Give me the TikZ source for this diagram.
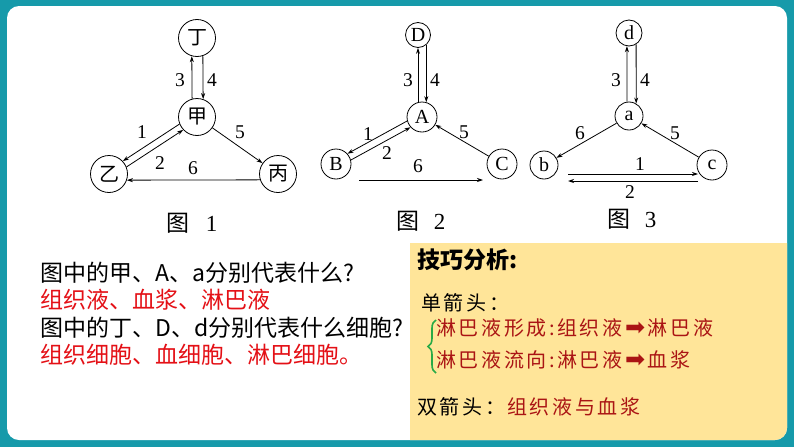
\documentclass[tikz,border=0pt]{standalone}
\usepackage{fontspec}
\setmainfont{Liberation Serif}
\newfontfamily\cjk{Noto Sans CJK SC}
\newfontfamily\sym{DejaVu Sans}
\usetikzlibrary{arrows.meta,calc,decorations.pathreplacing}
\definecolor{frameteal}{RGB}{22,154,170}
\definecolor{boxyellow}{RGB}{255,229,153}
\definecolor{ansred}{RGB}{228,16,22}
\definecolor{darkred}{RGB}{170,20,20}
\definecolor{bracegreen}{RGB}{40,170,70}
\def\trkloop#1{\ifx\relax#1\else#1\kern2.6pt\expandafter\trkloop\fi}
\newcommand\trk[1]{\trkloop#1\relax}
\newcommand\harrow{{\sym\fontsize{24}{24}\selectfont ➡}\kern2.6pt}
\begin{document}
\begin{tikzpicture}[x=1pt,y=-1pt,
  circ/.style={circle,draw,line width=0.8pt,inner sep=0pt,minimum size=#1},
  circ/.default=30pt,
  latin/.style={font=\fontsize{20}{20}\selectfont},
  han/.style={font=\cjk\fontsize{20}{20}\selectfont},
  lab/.style={inner sep=0pt,font=\fontsize{19.5}{19.5}\selectfont},
  capt/.style={inner sep=0pt,font=\fontsize{23}{23}\selectfont},
  arr/.style={line width=0.8pt,-{Stealth[length=6pt,width=4pt]}},
  qtext/.style={anchor=west,inner sep=0pt,font=\cjk\fontsize{23}{27}\selectfont},
  btext/.style={anchor=west,inner sep=0pt,font=\cjk\fontsize{20}{24}\selectfont}]
\useasboundingbox (0,0) rectangle (794,447);
% frame
\fill[frameteal] (0,0) rectangle (794,447);
\fill[white,rounded corners=12pt] (7,6) rectangle (787,440);
\begin{scope}
  \clip[rounded corners=12pt] (7,6) rectangle (787,440);
  \fill[boxyellow] (410,243) rectangle (792,445);
\end{scope}

% ---------- Figure 1 ----------
\node[circ=37pt,han] (T1) at (197,38) {丁};
\node[circ=37pt,han] (J1) at (197,117) {甲};
\node[circ=37pt,han] (Y1) at (109,174) {乙};
\node[circ=37pt,han] (P1) at (278,174) {丙};
\draw[arr] (J1.105.7) -- (T1.254.3);
\draw[arr] (T1.288.9) -- (J1.71.1);
\draw[arr] (J1.202) -- (Y1.43.8);
\draw[arr] (Y1.22) -- (J1.223.8);
\draw[arr] (J1) -- (P1);
\draw[arr] (P1.198.9) -- (Y1.341.1);
\node[lab] (l13) at (180,80) {3};
\node[lab] (l14) at (212,80) {4};
\node[lab] (l11) at (142,132) {1};
\node[lab] (l12) at (160,163) {2};
\node[lab] (l15) at (240,132) {5};
\node[lab] (l16) at (193,168) {6};
\node[capt] (c1) at (192,223) {{\cjk 图}\hspace{16pt}1};

% ---------- Figure 2 ----------
\node[circ=25pt,latin] (D2) at (418,35) {D};
\node[circ=30pt,latin] (A2) at (422,117) {A};
\node[circ=30pt,latin] (B2) at (336,164) {B};
\node[circ=30pt,latin] (C2) at (502,164) {C};
\draw[arr] (A2.105.5) -- (A2.105.5 |- D2.south);
\draw[arr] (D2.310) -- (D2.310 |- A2.74.5);
\draw[arr] (A2.195.2) -- (B2.42.2);
\draw[arr] (B2.15.2) -- (A2.222.2);
\draw[arr] (C2) -- (A2);
\draw[arr] ($(B2.center)+(23,16)$) -- ($(C2.center)+(-19,16)$);
\node[lab] (l23) at (408,80) {3};
\node[lab] (l24) at (435,80) {4};
\node[lab] (l21) at (368,134) {1};
\node[lab] (l22) at (387,153) {2};
\node[lab] (l25) at (464,132) {5};
\node[lab] (l26) at (418,166) {6};
\node[capt] (c2) at (421,221) {{\cjk 图}\hspace{14pt}2};

% ---------- Figure 3 ----------
\node[circ=26pt,latin] (d3) at (629,33) {d};
\node[circ=28pt,latin] (a3) at (629,116) {a};
\node[circ=28pt,latin] (b3) at (544,165) {b};
\node[circ=30pt,latin] (c3) at (712,165) {c};
\draw[arr] (a3.98.2) -- (d3.261.15);
\draw[arr] (d3.302.6) -- (a3.60);
\draw[arr] (a3) -- (b3);
\draw[arr] (c3) -- (a3);
\draw[arr] ($(b3.center)+(24,9)$) -- ($(c3.center)+(-14,9)$);
\draw[arr] ($(c3.center)+(-14,16)$) -- ($(b3.center)+(24,16)$);
\node[lab] (l33) at (616,80) {3};
\node[lab] (l34) at (645,80) {4};
\node[lab] (l36) at (580,133) {6};
\node[lab] (l35) at (675,133) {5};
\node[lab] (l31) at (640,164) {1};
\node[lab] (l32) at (630,192) {2};
\node[capt] (c3cap) at (632,219) {{\cjk 图}\hspace{14pt}3};

% ---------- Questions ----------
\node[qtext] (q1) at (40,273) {图中的甲、A、a分别代表什么?};
\node[qtext,text=ansred] (q2) at (40,300) {组织液、血浆、淋巴液};
\node[qtext] (q3) at (40,328) {图中的丁、D、d分别代表什么细胞?};
\node[qtext,text=ansred] (q4) at (40,355) {组织细胞、血细胞、淋巴细胞。};

% ---------- Tips box ----------
\node[anchor=west,inner sep=0pt,font=\cjk\bfseries\fontsize{23}{28}\selectfont] (tip) at (417,260) {技巧分析:};
\node[btext] (single) at (421,303) {\trk{单箭头：}};
\draw[bracegreen,line width=1.6pt,decorate,decoration={brace,amplitude=8pt}] (436,373) -- (436,320);
\node[btext,text=darkred] (s1) at (436,328) {\trk{淋巴液形成:组织液}\harrow\trk{淋巴液}};
\node[btext,text=darkred] (s2) at (436,360) {\trk{淋巴液流向:淋巴液}\harrow\trk{血浆}};
\node[btext] (double) at (417,407) {\trk{双箭头：}};
\node[btext,text=darkred] (d1) at (507,407) {\trk{组织液与血浆}};
\end{tikzpicture}
\end{document}
